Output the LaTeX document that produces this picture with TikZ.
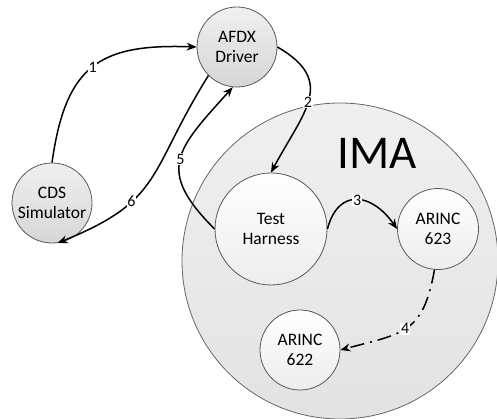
\documentclass[tikz,border=0pt]{standalone}
\usepackage{fontspec}
\setmainfont{Carlito}
\usetikzlibrary{arrows.meta}
\tikzset{
  unit/.style={circle, draw=black!65, line width=0.8pt, align=center,
    font=\fontsize{17.5}{20.5}\selectfont, inner sep=0pt},
  hostunit/.style={unit, top color=black!6, bottom color=black!16},
  imaunit/.style={unit, top color=white, bottom color=black!7},
  flow/.style={line width=1.5pt, -{Stealth[length=10pt,width=8pt]}},
  steplabel/.style={fill=white, inner sep=0.6pt, font=\fontsize{16}{16}\selectfont},
}
\begin{document}
\begin{tikzpicture}[x=1pt,y=-1pt]
\useasboundingbox (0,0) rectangle (497,419);
% IMA enclosure
\node[circle, draw=black!60, line width=0.8pt, top color=black!6, bottom color=black!11,
      minimum size=316pt, inner sep=0pt] (ima) at (340,261) {};
\node[font=\fontsize{47}{47}\selectfont] (imalabel) at (377,153) {IMA};
% units
\node[hostunit, minimum size=80pt] (afdx) at (237,47) {AFDX\\Driver};
\node[hostunit, minimum size=80pt] (cds) at (52,203) {CDS\\Simulator};
\node[imaunit, minimum size=112pt] (th) at (271,229) {Test\\Harness};
\node[imaunit, minimum size=81pt] (a623) at (438,229) {ARINC\\623};
\node[imaunit, minimum size=80pt] (a622) at (300,350) {ARINC\\622};
% message flow
\draw[flow] (cds.north) to[out=82,in=178,looseness=1.35] node[steplabel, pos=0.5] {1} (afdx.west);
\draw[flow] (afdx.east) to[out=-30,in=62,looseness=1.4] node[steplabel, pos=0.52] {2} (th.north);
\draw[flow] (th.west) to[out=135,in=228,looseness=1.5] node[steplabel, pos=0.5] {5} (afdx.-96);
\draw[flow] (afdx.225) to[out=238,in=22,looseness=1.3] node[steplabel, pos=0.66] {6} (cds.-82);
\draw[flow] (th.east) to[out=75,in=125,looseness=1.6] node[steplabel, pos=0.5] {3} (a623.west);
\draw[flow, dash pattern=on 14pt off 6pt on 2pt off 6pt] (a623.-95) to[out=-100,in=15,looseness=1.35]
  node[steplabel, pos=0.52] {4} (a622.east);
\end{tikzpicture}
\end{document}
